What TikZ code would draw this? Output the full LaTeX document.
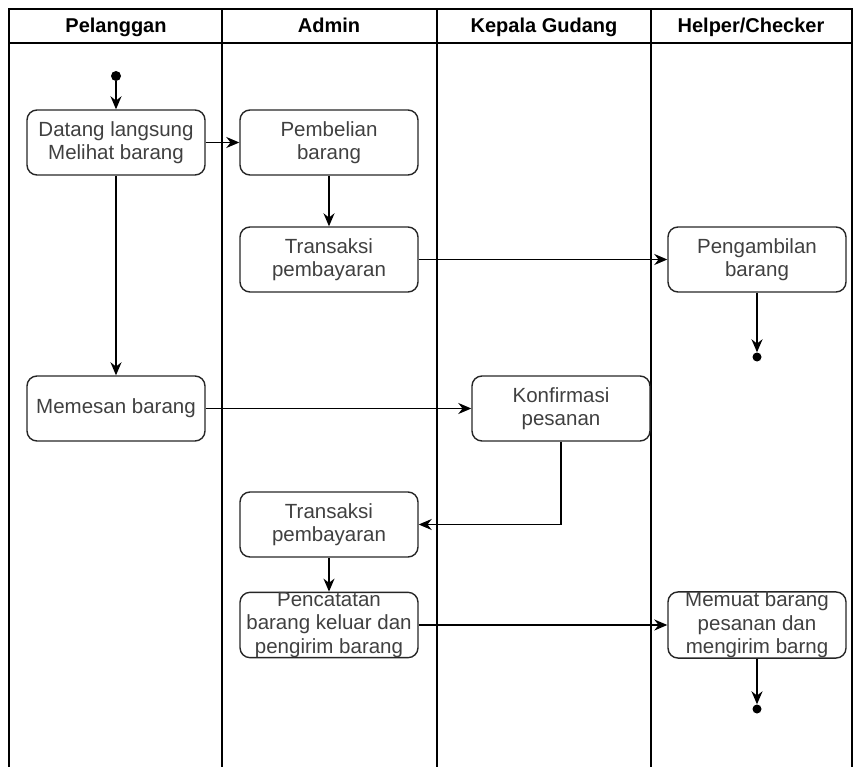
\documentclass[tikz,border=0pt]{standalone}
\usepackage{fontspec}
\setmainfont{Liberation Sans}
\usetikzlibrary{arrows.meta}
\begin{document}
\begin{tikzpicture}[x=1pt,y=-1pt,
  lane/.style={line width=1.8pt,draw=black},
  act/.style={draw=black!85,line width=1.4pt,rounded corners=10pt,minimum width=178pt,minimum height=65pt,align=center,inner sep=0pt,font=\fontsize{20.5}{23.5}\selectfont,text=black!75},
  hdr/.style={font=\bfseries\fontsize{20}{23}\selectfont,text=black,anchor=base},
  flow/.style={line width=1.7pt,-{Stealth[length=13pt,width=11pt]}},
  dot/.style={circle,fill=black,inner sep=0pt,minimum size=10pt}]
\useasboundingbox (0,0) rectangle (854,767);
% swimlanes
\draw[lane] (9,767) -- (9,9) -- (852,9) -- (852,767);
\draw[lane] (9,43) -- (852,43);
\draw[lane] (222,9) -- (222,767);
\draw[lane] (437,9) -- (437,767);
\draw[lane] (651,9) -- (651,767);
\node[hdr] (h1) at (116,33) {Pelanggan};
\node[hdr] (h2) at (329,33) {Admin};
\node[hdr] (h3) at (544,33) {Kepala Gudang};
\node[hdr] (h4) at (751,33) {Helper/Checker};
% nodes
\node[dot] (start) at (116,76) {};
\node[act] (datang) at (116,142.5) {Datang langsung\\Melihat barang};
\node[act] (beli) at (329,142.5) {Pembelian\\barang};
\node[act] (trans1) at (329,259.5) {Transaksi\\pembayaran};
\node[act] (ambil) at (757,259.5) {Pengambilan\\barang};
\node[act] (pesan) at (116,408.5) {Memesan barang};
\node[act] (konf) at (561,408.5) {Konfirmasi\\pesanan};
\node[act] (trans2) at (329,524.5) {Transaksi\\pembayaran};
\node[act] (catat) at (329,625) {Pencatatan\\barang keluar dan\\pengirim barang};
\node[act] (muat) at (757,625) {Memuat barang\\pesanan dan\\mengirim barng};
\node[dot,minimum size=9pt] (end1) at (757,357) {};
\node[dot,minimum size=9pt] (end2) at (757,709) {};
% flows
\draw[flow] (start) -- (datang);
\draw[flow] (datang) -- (beli);
\draw[flow] (beli) -- (trans1);
\draw[flow] (trans1) -- (ambil);
\draw[flow] (ambil) -- (end1.north);
\draw[flow] (datang) -- (pesan);
\draw[flow] (pesan) -- (konf);
\draw[flow] (konf.south) |- (trans2.east);
\draw[flow] (trans2) -- (catat);
\draw[flow] (catat) -- (muat);
\draw[flow] (muat) -- (end2.north);
\end{tikzpicture}
\end{document}
